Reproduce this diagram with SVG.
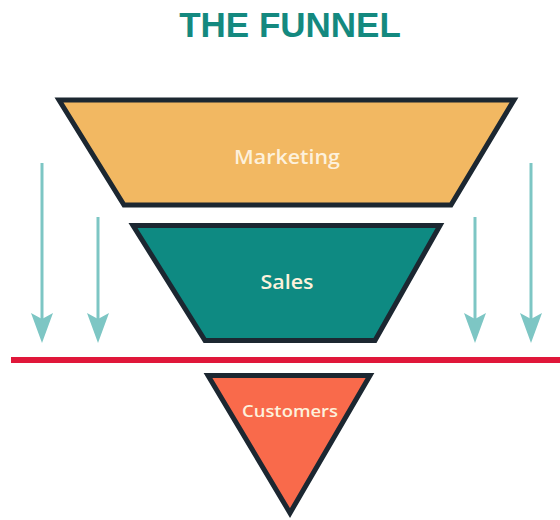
<svg xmlns="http://www.w3.org/2000/svg" width="560" height="520" viewBox="0 0 560 520">
<defs>
<style>
.stage{stroke:#1c2731;stroke-width:5;stroke-linejoin:miter}
.lbl{font-family:"Open Sans","Liberation Sans",sans-serif;font-weight:600;fill:#fdf1dc;text-anchor:middle}
.flow{stroke:#7dc6c4;stroke-width:3;fill:none}
.head{fill:#7dc6c4}
</style>
</defs>
<rect width="560" height="520" fill="#ffffff"/>
<text x="290" y="37" font-family="'Liberation Sans',Arial,sans-serif" font-weight="700" font-size="35" fill="#14897f" text-anchor="middle">THE FUNNEL</text>
<g id="marketing">
<polygon class="stage" points="59,100 514,100 451,205 124,205" fill="#f2b862"/>
<text class="lbl" x="287" y="164" font-size="19" textLength="106" lengthAdjust="spacingAndGlyphs">Marketing</text>
</g>
<g id="sales">
<polygon class="stage" points="133,225.5 440,225.5 375,340.5 205,340.5" fill="#0e8a82"/>
<text class="lbl" x="287" y="289" font-size="20" textLength="53" lengthAdjust="spacingAndGlyphs">Sales</text>
</g>
<g id="threshold">
<rect x="11" y="357" width="549" height="6" fill="#e0173a"/>
</g>
<g id="customers">
<polygon class="stage" points="208,375.5 370,375.5 290,513" fill="#f96a4b"/>
<text class="lbl" x="290" y="417" font-size="17" textLength="96" lengthAdjust="spacingAndGlyphs">Customers</text>
</g>
<g id="connectors">
<line class="flow" x1="42" y1="163" x2="42" y2="322"/>
<polygon class="head" points="31,313 42,319 53,313 42,343"/>
<line class="flow" x1="98" y1="217" x2="98" y2="322"/>
<polygon class="head" points="87,313 98,319 109,313 98,343"/>
<line class="flow" x1="475" y1="217" x2="475" y2="322"/>
<polygon class="head" points="464,313 475,319 486,313 475,343"/>
<line class="flow" x1="531" y1="163" x2="531" y2="322"/>
<polygon class="head" points="520,313 531,319 542,313 531,343"/>
</g>
</svg>
